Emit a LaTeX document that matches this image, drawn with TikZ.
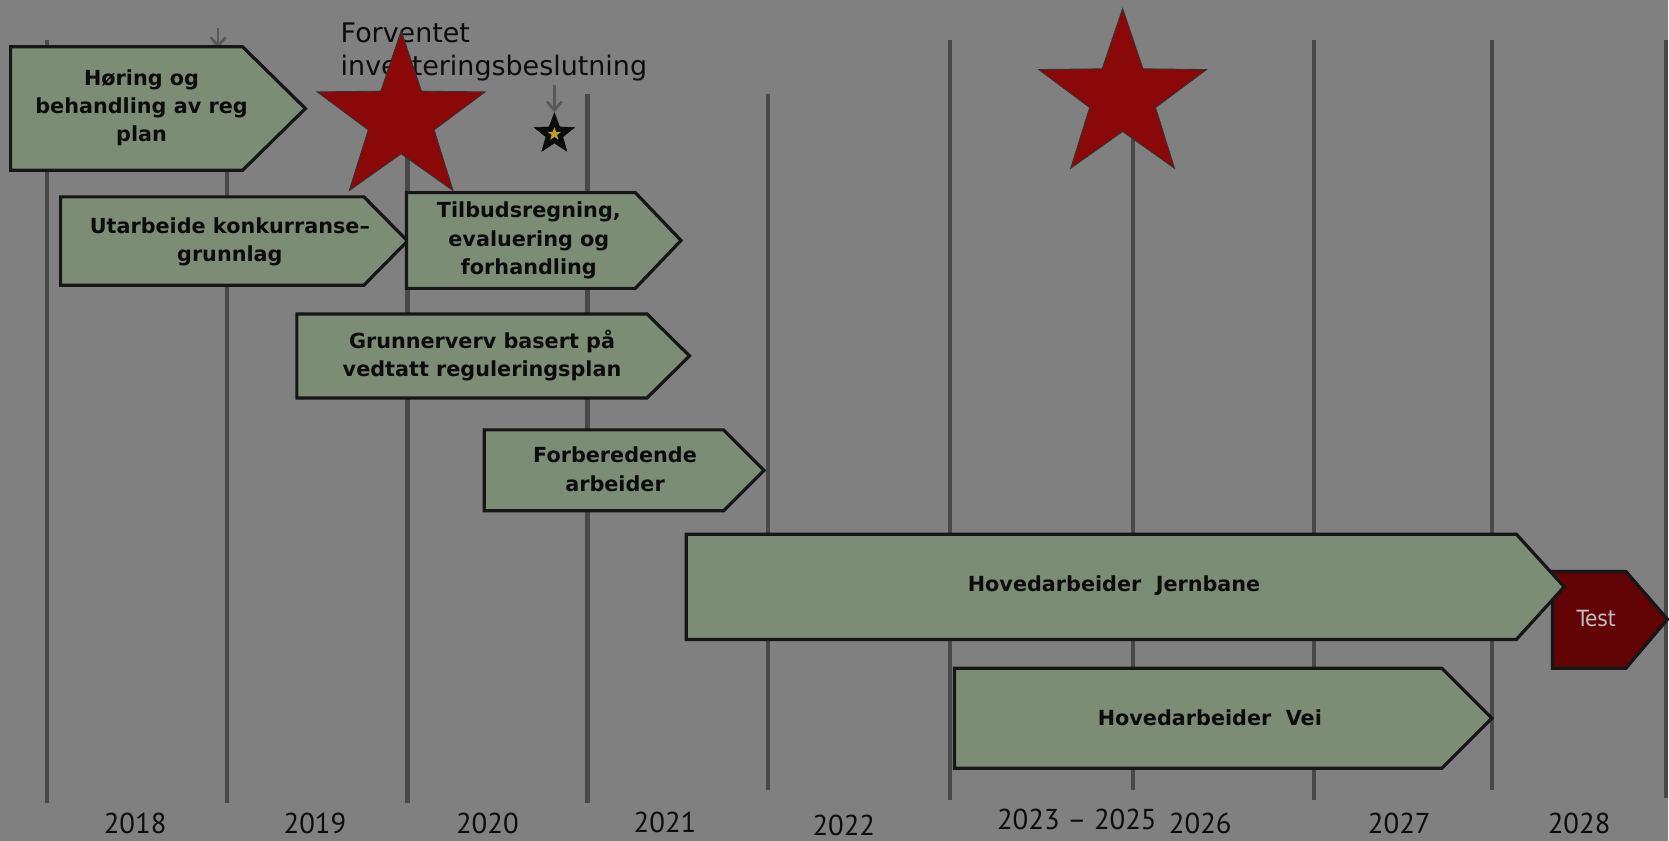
\documentclass[tikz,border=0pt]{standalone}
\usepackage{fontspec}
\setmainfont{DejaVu Sans}
\newfontfamily\condfont{DejaVu Sans Condensed}
\newfontfamily\yearfont{PT Sans}
\usetikzlibrary{shapes.geometric,arrows.meta}

\definecolor{bggray}{RGB}{128,128,128}
\definecolor{gridgray}{RGB}{72,72,72}
\definecolor{arrowgray}{RGB}{88,88,88}
\definecolor{boxgreen}{RGB}{123,141,117}
\definecolor{boxline}{RGB}{22,22,22}
\definecolor{starred}{RGB}{138,8,8}
\definecolor{testred}{RGB}{98,4,6}
\definecolor{textblack}{RGB}{12,12,12}
\definecolor{testtext}{RGB}{192,192,192}
\definecolor{miniyellow}{RGB}{190,160,40}

\begin{document}
\begin{tikzpicture}[x=1pt,y=-1pt]

	\tikzstyle{phase}=[draw=boxline,line width=3pt,fill=boxgreen,line join=miter]
	\tikzstyle{phasetxt}=[align=center,inner sep=0pt,text=textblack,font=\bfseries\fontsize{19.5}{26.5}\selectfont]
	\tikzstyle{yearline}=[line width=4pt,draw=gridgray]
	\tikzstyle{yearlbl}=[inner sep=0pt,text=textblack,font=\yearfont\fontsize{27}{30}\selectfont]
	\tikzstyle{bigstar}=[star,star points=5,star point ratio=2.55,minimum size=166pt,inner sep=0pt,fill=starred,draw=black!80,line width=0.8pt]
	\tikzstyle{pointer}=[line width=2.5pt,draw=arrowgray,-{Straight Barb[length=8pt,width=14pt,line width=2.5pt]}]

	% background fixes the size
	\fill[bggray] (0,0) rectangle (1568,790);

	% year lines
	\foreach \x / \ya / \yb in {44/38/755,213/44/755,383/120/755,552/88/755,722/88/742,893/38/752,1065/120/742,1235/38/752,1402/38/742,1566/38/750}
		{ \draw[yearline] (\x,\ya) -- (\x,\yb); }

	% small arrows from the top
	\coordinate (hoeringtop) at (205,26);
	\coordinate (hoeringend) at (205,45);
	\draw[pointer] (hoeringtop) -- (hoeringend);

	\node[font=\fontsize{25.3}{31}\selectfont,align=left,anchor=north west,inner sep=0pt,text=textblack] (forventet) at (320,21) {Forventet\\investeringsbeslutning};

	\node[star,star points=5,star point ratio=2.4,minimum size=40pt,inner sep=0pt,fill=textblack,draw=black] (milestone) at (521,126) {};
	\node[star,star points=5,star point ratio=2.4,minimum size=13pt,inner sep=0pt,fill=miniyellow] (ministar) at (milestone) {};
	\coordinate (decision) at (521,80);
	\draw[pointer] (decision) -- (milestone.north);

	% test box under the railway arrow
	\draw[phase,fill=testred] (1459,537) -- (1528,537) -- (1567,582) -- (1528,628) -- (1459,628) -- cycle;
	\node[inner sep=0pt,text=testtext,font=\condfont\fontsize{21}{24}\selectfont] (test) at (1500,581) {Test};

	% phase arrows: left / right / tip / top / bottom
	\foreach \xa / \xb / \xc / \ya / \yb in {10/228/287/44/160, 57/342/383/185/268, 382/597/640/181/271, 279/608/648/295/374, 455/680/718/404/480, 645/1425/1470/502/601, 897/1355/1402/628/722}
		{ \draw[phase] (\xa,\ya) -- (\xb,\ya) -- (\xc,{(\ya+\yb)/2}) -- (\xb,\yb) -- (\xa,\yb) -- cycle; }

	\node[phasetxt] (hoering) at (133,101) {Høring og\\behandling av reg\\plan};
	\node[phasetxt] (utarbeide) at (216,227) {Utarbeide konkurranse–\\grunnlag};
	\node[phasetxt] (tilbud) at (497,226) {Tilbudsregning,\\evaluering og\\forhandling};
	\node[phasetxt] (grunnerverv) at (453,334) {Grunnerverv basert på\\vedtatt reguleringsplan};
	\node[phasetxt] (forberedende) at (578,441) {Forberedende\\arbeider};
	\node[phasetxt] (jernbane) at (1047,550) {Hovedarbeider\ \ Jernbane};
	\node[phasetxt] (vei) at (1137,675) {Hovedarbeider\ \ Vei};

	% milestones
	\node[bigstar] (star1) at (377,112) {};
	\node[bigstar] (star2) at (1055,91) {};

	% years
	\foreach \x / \y / \yr [count=\i] in {127/774/2018,296/774/2019,458/774/2020,625/773/2021,793/776/2022,1012/770/{2023 – 2025},1128/774/2026,1315/774/2027,1484/774/2028}
		{ \node[yearlbl] (yr\i) at (\x,\y) {\yr}; }

\end{tikzpicture}
\end{document}
